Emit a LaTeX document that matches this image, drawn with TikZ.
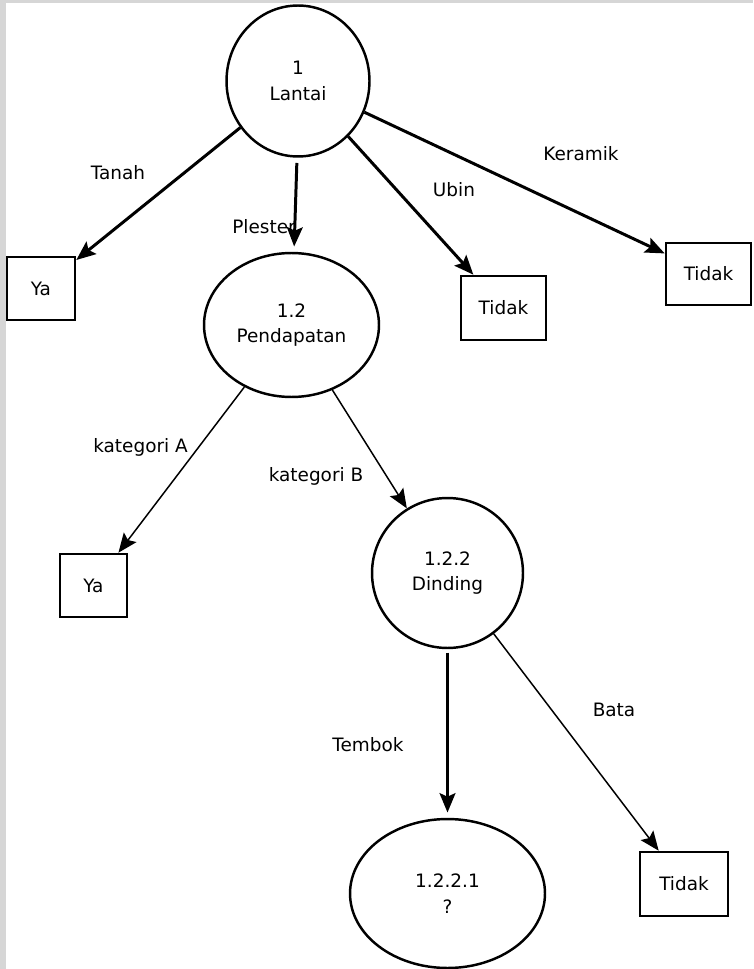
\documentclass[tikz,border=0pt]{standalone}
\usepackage{fontspec}
\setmainfont{DejaVu Sans}
\usepackage{tikz}
\usetikzlibrary{arrows.meta,shapes.geometric}
\tikzset{>={Stealth[length=11pt,width=9pt,inset=2pt]}}
\tikzset{
  proc/.style={draw,ellipse,line width=1.4pt,inner sep=0pt,align=center,
    font=\fontsize{10.5}{14.5}\selectfont},
  term/.style={draw,rectangle,line width=1.5pt,inner sep=0pt,font=\fontsize{10.5}{12}\selectfont},
  lbl/.style={inner sep=0pt,font=\fontsize{10.5}{12}\selectfont},
  heavy/.style={->,line width=1.7pt},
  light/.style={->,line width=0.85pt}
}

\begin{document}
\begin{tikzpicture}[x=0.02cm,y=-0.02cm]
    \useasboundingbox (0,0) rectangle (753,969);
    \fill[black!16] (0,0) rectangle (753,969);
    \fill[white] (6,3) rectangle (753,969);
    % processes
    \node[proc,minimum width=2.86cm,minimum height=3.02cm] (lantai) at (298,81) {1\\Lantai};
    \node[proc,minimum width=3.5cm,minimum height=2.88cm] (pendapatan) at (291.5,325) {1.2\\Pendapatan};
    \node[proc,minimum width=3.02cm,minimum height=3cm] (dinding) at (447.5,573) {1.2.2\\Dinding};
    \node[proc,minimum width=3.9cm,minimum height=2.98cm] (tanya) at (447.5,893.5) {1.2.2.1\\?};
    % results
    \node[term,minimum width=1.36cm,minimum height=1.26cm] (ya1) at (41,288.5) {Ya};
    \node[term,minimum width=1.7cm,minimum height=1.28cm] (tidak1) at (503.5,308) {Tidak};
    \node[term,minimum width=1.7cm,minimum height=1.24cm] (tidak2) at (708.5,274) {Tidak};
    \node[term,minimum width=1.34cm,minimum height=1.26cm] (ya2) at (93.5,585.5) {Ya};
    \node[term,minimum width=1.76cm,minimum height=1.28cm] (tidak3) at (684,884) {Tidak};
    % branches
    \draw[heavy] (lantai) -- (ya1);
    \draw[heavy,shorten <=3pt,shorten >=3pt] ([xshift=-0.02cm]lantai.south) -- ([xshift=0.05cm]pendapatan.north);
    \draw[heavy] (lantai) -- (tidak1);
    \draw[heavy] (lantai) -- (tidak2);
    \draw[light] (pendapatan) -- (ya2);
    \draw[light] (pendapatan) -- (dinding);
    \draw[heavy,shorten <=2pt,shorten >=3pt] (dinding.south) -- (tanya.north);
    \draw[light] (dinding) -- (tidak3);
    % branch labels
    \node[lbl] (tanah) at (118,173) {Tanah};
    \node[lbl] (plester) at (264,227) {Plester};
    \node[lbl] (ubin) at (454,190) {Ubin};
    \node[lbl] (keramik) at (581,154) {Keramik};
    \node[lbl] (katA) at (140.5,447) {kategori A};
    \node[lbl] (katB) at (316,476) {kategori B};
    \node[lbl] (tembok) at (368,745) {Tembok};
    \node[lbl] (bata) at (614,710) {Bata};
\end{tikzpicture}
\end{document}
